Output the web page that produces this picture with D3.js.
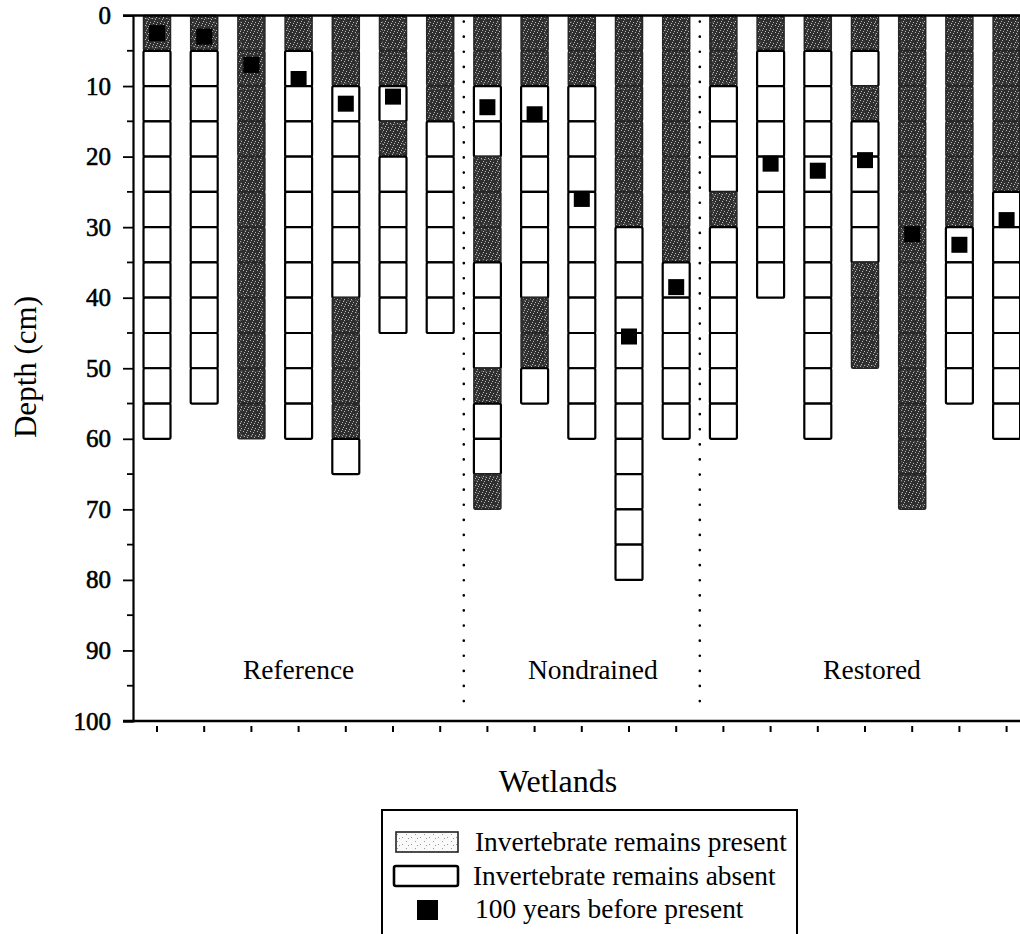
<!DOCTYPE html>
<html>
<head>
<meta charset="utf-8">
<script src="https://cdn.jsdelivr.net/npm/d3@7"></script>
<style>
  html, body { margin: 0; padding: 0; background: #fff; }
  svg { display: block; font-family: "Liberation Serif", "Times New Roman", serif; }
</style>
</head>
<body>
<svg id="chart" width="1020" height="934"></svg>
<script>
// Wetland groups and the group each core belongs to (left to right)
const groups = ["Reference", "Nondrained", "Restored"];
const wetlandGroup = [0, 0, 0, 0, 0, 0, 0, 1, 1, 1, 1, 1, 2, 2, 2, 2, 2, 2, 2];

// Total core length (cm) for each wetland
const coreDepth = [60, 55, 60, 60, 65, 45, 45, 70, 55, 60, 80, 60, 60, 40, 60, 50, 70, 55, 60];

// Depth intervals (cm) in which invertebrate remains were present
const presentLayers = [
  [[0, 5]],
  [[0, 5]],
  [[0, 60]],
  [[0, 5]],
  [[0, 10], [40, 60]],
  [[0, 10], [15, 20]],
  [[0, 15]],
  [[0, 10], [20, 35], [50, 55], [65, 70]],
  [[0, 10], [40, 50]],
  [[0, 10]],
  [[0, 30]],
  [[0, 35]],
  [[0, 10], [25, 30]],
  [[0, 5]],
  [[0, 5]],
  [[0, 5], [10, 15], [35, 50]],
  [[0, 70]],
  [[0, 30]],
  [[0, 25]]
];

// Depth (cm) corresponding to 100 years before present (null = not shown)
const marker100yr = [2.5, 3, 7, 9, 12.5, 11.5, null, 13, 14, 26, 45.5, 38.5, null, 21, 22, 20.5, 31, 32.5, 29];

// Axis ticks and text
const depthMajor = [0, 10, 20, 30, 40, 50, 60, 70, 80, 90, 100];
const depthMinor = [5, 15, 25, 35, 45, 55, 65, 75, 85, 95];
const sliceCm = 5;
const xTitle = "Wetlands";
const yTitle = "Depth (cm)";
const legendLabels = ["Invertebrate remains present", "Invertebrate remains absent", "100 years before present"];

// ---------------------------------------------------------------------------
const svg = d3.select("#chart");
const W = 1020;

const x = d3.scaleBand()
  .domain(d3.range(coreDepth.length))
  .range([133.4, 1030.2])
  .paddingInner(0)
  .paddingOuter(0);
const y = d3.scaleLinear().domain([0, 100]).range([15.5, 721]);
const cx = i => x(i) + x.bandwidth() / 2;
const barW = 27;
const markerSize = 16;

// Stippled fills
const defs = svg.append("defs");
const dark = defs.append("pattern")
  .attr("id", "stippleDark").attr("patternUnits", "userSpaceOnUse")
  .attr("width", 7).attr("height", 7);
dark.append("rect").attr("width", 7).attr("height", 7).attr("fill", "#2f2f2f");
[[0, 0], [3, 1], [5, 4], [1, 5], [6, 2], [2, 3]].forEach(([a, b]) =>
  dark.append("rect").attr("x", a).attr("y", b).attr("width", 1).attr("height", 1).attr("fill", "#b8b8b8"));

const light = defs.append("pattern")
  .attr("id", "stippleLight").attr("patternUnits", "userSpaceOnUse")
  .attr("width", 9).attr("height", 7);
light.append("rect").attr("width", 9).attr("height", 7).attr("fill", "#fafafa");
[[1, 1], [6, 4], [3, 5]].forEach(([a, b]) =>
  light.append("rect").attr("x", a).attr("y", b).attr("width", 1).attr("height", 1).attr("fill", "#9a9a9a"));

// Build 5-cm slices for every core
const cells = [];
coreDepth.forEach((depth, i) => {
  for (let top = 0; top < depth; top += sliceCm) {
    const mid = top + sliceCm / 2;
    const present = presentLayers[i].some(([a, b]) => mid > a && mid < b);
    cells.push({ i, top, bottom: top + sliceCm, present });
  }
});

const gCells = svg.append("g");
gCells.selectAll("rect.cell")
  .data(cells)
  .join("rect")
  .attr("class", "cell")
  .attr("x", d => cx(d.i) - barW / 2)
  .attr("y", d => y(d.top))
  .attr("width", barW)
  .attr("height", d => y(d.bottom) - y(d.top))
  .attr("rx", 1.5)
  .attr("fill", d => d.present ? "url(#stippleDark)" : "#fff")
  .attr("stroke", d => d.present ? "#262626" : "#000")
  .attr("stroke-width", d => d.present ? 1.5 : 2.2);

// faint speckled outline inside the present slices
gCells.selectAll("rect.inner")
  .data(cells.filter(d => d.present))
  .join("rect")
  .attr("class", "inner")
  .attr("x", d => cx(d.i) - barW / 2 + 3)
  .attr("y", d => y(d.top) + 3)
  .attr("width", barW - 6)
  .attr("height", d => y(d.bottom) - y(d.top) - 6)
  .attr("fill", "none")
  .attr("stroke", "#8a8a8a")
  .attr("stroke-width", 1)
  .attr("stroke-dasharray", "1.5 2.5")
  .attr("opacity", 0.7);

// 100-years-before-present markers
svg.append("g").selectAll("rect")
  .data(marker100yr.map((d, i) => ({ i, d })).filter(m => m.d !== null))
  .join("rect")
  .attr("x", m => cx(m.i) - markerSize / 2)
  .attr("y", m => y(m.d) - markerSize / 2)
  .attr("width", markerSize)
  .attr("height", markerSize)
  .attr("fill", "#000");

// Dotted separators between groups
const boundaries = d3.range(1, wetlandGroup.length)
  .filter(i => wetlandGroup[i] !== wetlandGroup[i - 1]);
svg.append("g").selectAll("line")
  .data(boundaries)
  .join("line")
  .attr("x1", i => x(i)).attr("x2", i => x(i))
  .attr("y1", y(0) + 6).attr("y2", y(98))
  .attr("stroke", "#000")
  .attr("stroke-width", 2.6)
  .attr("stroke-linecap", "round")
  .attr("stroke-dasharray", "0.1 15");

// Group labels, centred over their cores
const groupLabelDx = [0, 11, 7];
svg.append("g").selectAll("text")
  .data(groups)
  .join("text")
  .attr("x", (g, k) => {
    const idx = wetlandGroup.map((v, i) => v === k ? i : -1).filter(i => i >= 0);
    return (cx(idx[0]) + cx(idx[idx.length - 1])) / 2 + groupLabelDx[k];
  })
  .attr("y", 679)
  .attr("text-anchor", "middle")
  .attr("font-size", 27.5)
  .text(g => g);

// Y axis (depth)
const yAxis = d3.axisLeft(y).tickValues(depthMajor).tickSize(10).tickPadding(12).tickFormat(d3.format("d"));
const gy = svg.append("g").attr("transform", "translate(133,0)").call(yAxis);
gy.select(".domain").attr("stroke-width", 2.2);
gy.selectAll(".tick line").attr("stroke-width", 1.8);
gy.selectAll(".tick text")
  .attr("font-family", "'Liberation Serif', 'Times New Roman', serif")
  .attr("font-size", 25)
  .attr("fill", "#000")
  .attr("stroke", "#000")
  .attr("stroke-width", 0.6);
gy.append("g").selectAll("line")
  .data(depthMinor)
  .join("line")
  .attr("x1", -6).attr("x2", 0)
  .attr("y1", d => y(d)).attr("y2", d => y(d))
  .attr("stroke", "#000").attr("stroke-width", 1.8);

// Top frame line
svg.append("line")
  .attr("x1", 123).attr("x2", W)
  .attr("y1", y(0)).attr("y2", y(0))
  .attr("stroke", "#000").attr("stroke-width", 2.6);

// X axis (wetlands), unlabeled ticks
const xAxis = d3.axisBottom(x).tickSize(0).tickFormat("");
const gx = svg.append("g").attr("transform", `translate(0,${y(100)})`).call(xAxis);
gx.select(".domain").remove();
gx.append("line")
  .attr("x1", 123).attr("x2", W).attr("y1", 0).attr("y2", 0)
  .attr("stroke", "#000").attr("stroke-width", 2.6);
gx.selectAll(".tick line").attr("y1", 5).attr("y2", 11).attr("stroke-width", 2);

// Axis titles
svg.append("text")
  .attr("x", 558).attr("y", 792)
  .attr("text-anchor", "middle")
  .attr("font-size", 32)
  .text(xTitle);

svg.append("text")
  .attr("transform", "translate(36,367) rotate(-90)")
  .attr("text-anchor", "middle")
  .attr("font-size", 31)
  .text(yTitle);

// Legend
const lg = svg.append("g");
lg.append("path")
  .attr("d", `M382,${934 + 4} V810 H797 V${934 + 4}`)
  .attr("fill", "none").attr("stroke", "#000").attr("stroke-width", 2);

lg.append("rect")
  .attr("x", 396).attr("y", 832).attr("width", 62).attr("height", 20)
  .attr("fill", "url(#stippleLight)")
  .attr("stroke", "#222").attr("stroke-width", 1.6);
lg.append("rect")
  .attr("x", 394).attr("y", 866).attr("width", 64).attr("height", 20).attr("rx", 2)
  .attr("fill", "#fff")
  .attr("stroke", "#000").attr("stroke-width", 2.6);
lg.append("rect")
  .attr("x", 417).attr("y", 900).attr("width", 21).attr("height", 20)
  .attr("fill", "#000");

lg.selectAll("text.leg")
  .data(legendLabels)
  .join("text")
  .attr("class", "leg")
  .attr("x", (d, k) => k === 1 ? 473 : 475)
  .attr("y", (d, k) => [851, 885, 918][k])
  .attr("font-size", 27.4)
  .text(d => d);
</script>
</body>
</html>
